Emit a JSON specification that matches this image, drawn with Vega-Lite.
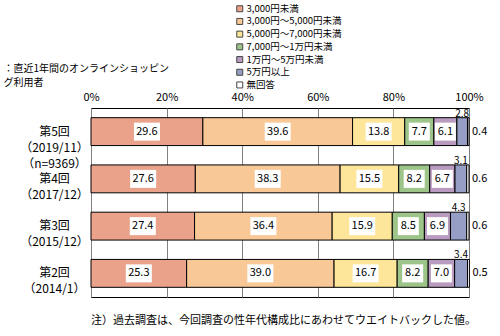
{
  "$schema": "https://vega.github.io/schema/vega-lite/v6.json",
  "width": 378,
  "height": 189,
  "autosize": {"type": "none"},
  "padding": {"left": 91, "top": 108, "right": 31, "bottom": 39},
  "background": "white",
  "config": {"view": {"stroke": "black", "strokeWidth": 1}, "font": "Noto Sans CJK JP"},
  "title": {"text": "注）過去調査は、今回調査の性年代構成比にあわせてウエイトバックした値。", "orient": "bottom", "anchor": "start", "frame": "group", "fontSize": 11, "fontWeight": "normal", "offset": 18, "font": "Noto Sans CJK JP", "color": "black"},
  "data": {"values": [
    {"round": "第5回|（2019/11）|（n=9369）", "cat": "3,000円未満", "value": 29.6},
    {"round": "第5回|（2019/11）|（n=9369）", "cat": "3,000円～5,000円未満", "value": 39.6},
    {"round": "第5回|（2019/11）|（n=9369）", "cat": "5,000円～7,000円未満", "value": 13.8},
    {"round": "第5回|（2019/11）|（n=9369）", "cat": "7,000円～1万円未満", "value": 7.7},
    {"round": "第5回|（2019/11）|（n=9369）", "cat": "1万円～5万円未満", "value": 6.1},
    {"round": "第5回|（2019/11）|（n=9369）", "cat": "5万円以上", "value": 2.8},
    {"round": "第5回|（2019/11）|（n=9369）", "cat": "無回答", "value": 0.4},
    {"round": "第4回|（2017/12）", "cat": "3,000円未満", "value": 27.6},
    {"round": "第4回|（2017/12）", "cat": "3,000円～5,000円未満", "value": 38.3},
    {"round": "第4回|（2017/12）", "cat": "5,000円～7,000円未満", "value": 15.5},
    {"round": "第4回|（2017/12）", "cat": "7,000円～1万円未満", "value": 8.2},
    {"round": "第4回|（2017/12）", "cat": "1万円～5万円未満", "value": 6.7},
    {"round": "第4回|（2017/12）", "cat": "5万円以上", "value": 3.1},
    {"round": "第4回|（2017/12）", "cat": "無回答", "value": 0.6},
    {"round": "第3回|（2015/12）", "cat": "3,000円未満", "value": 27.4},
    {"round": "第3回|（2015/12）", "cat": "3,000円～5,000円未満", "value": 36.4},
    {"round": "第3回|（2015/12）", "cat": "5,000円～7,000円未満", "value": 15.9},
    {"round": "第3回|（2015/12）", "cat": "7,000円～1万円未満", "value": 8.5},
    {"round": "第3回|（2015/12）", "cat": "1万円～5万円未満", "value": 6.9},
    {"round": "第3回|（2015/12）", "cat": "5万円以上", "value": 4.3},
    {"round": "第3回|（2015/12）", "cat": "無回答", "value": 0.6},
    {"round": "第2回|（2014/1）", "cat": "3,000円未満", "value": 25.3},
    {"round": "第2回|（2014/1）", "cat": "3,000円～5,000円未満", "value": 39.0},
    {"round": "第2回|（2014/1）", "cat": "5,000円～7,000円未満", "value": 16.7},
    {"round": "第2回|（2014/1）", "cat": "7,000円～1万円未満", "value": 8.2},
    {"round": "第2回|（2014/1）", "cat": "1万円～5万円未満", "value": 7.0},
    {"round": "第2回|（2014/1）", "cat": "5万円以上", "value": 3.4},
    {"round": "第2回|（2014/1）", "cat": "無回答", "value": 0.5}
  ]},
  "transform": [
    {"calculate": "indexof(['3,000円未満','3,000円～5,000円未満','5,000円～7,000円未満','7,000円～1万円未満','1万円～5万円未満','5万円以上','無回答'], datum.cat)", "as": "ci"},
    {"stack": "value", "groupby": ["round"], "sort": [{"field": "ci", "order": "ascending"}], "as": ["x0", "x1"]},
    {"calculate": "(datum.x0 + datum.x1) / 2", "as": "mid"}
  ],
  "encoding": {
    "y": {
      "field": "round", "type": "nominal",
      "sort": ["第5回|（2019/11）|（n=9369）", "第4回|（2017/12）", "第3回|（2015/12）", "第2回|（2014/1）"],
      "scale": {"paddingInner": 0.41, "paddingOuter": 0.205},
      "axis": {
        "title": ["：直近1年間のオンラインショッピン", "グ利用者"],
        "titleAngle": 0, "titleAlign": "left", "titleBaseline": "top",
        "titleX": -88, "titleY": -45, "titleFontSize": 10, "titleFontWeight": "normal",
        "titleLineHeight": 14, "titleColor": "black", "titleFont": "Noto Sans CJK JP",
        "labelExpr": "split(datum.label, '|')",
        "labelAlign": "center", "labelBaseline": "middle", "labelPadding": 37,
        "labelFontSize": 12, "labelLineHeight": 16, "labelColor": "black", "labelFont": "Noto Sans CJK JP",
        "ticks": false, "domain": false
      }
    }
  },
  "layer": [
    {
      "mark": {"type": "bar", "stroke": "black", "strokeWidth": 1},
      "encoding": {
        "x": {
          "field": "x0", "type": "quantitative",
          "scale": {"domain": [0, 100], "nice": false},
          "axis": {
            "orient": "top", "values": [0, 20, 40, 60, 80, 100], "labelExpr": "datum.value + '%'",
            "title": null, "domain": false, "ticks": false, "grid": true,
            "gridColor": "#808080", "gridOpacity": 1, "labelFontSize": 11, "labelPadding": 6,
            "labelColor": "black", "labelFlush": false, "labelFont": "Noto Sans CJK JP"
          }
        },
        "x2": {"field": "x1"},
        "color": {
          "field": "cat", "type": "nominal",
          "scale": {
            "domain": ["3,000円未満", "3,000円～5,000円未満", "5,000円～7,000円未満", "7,000円～1万円未満", "1万円～5万円未満", "5万円以上", "無回答"],
            "range": ["#EBA28B", "#F9C897", "#FDE699", "#9DC489", "#B89BBF", "#969EC5", "#FFFFFF"]
          },
          "legend": {
            "orient": "none", "legendX": 144, "legendY": -104, "title": null,
            "symbolType": "square", "symbolSize": 36, "symbolStrokeColor": "#444",
            "symbolStrokeWidth": 1, "labelFontSize": 9.5, "rowPadding": 1.7, "labelOffset": 2,
            "labelFont": "Noto Sans CJK JP", "labelColor": "black"
          }
        }
      }
    },
    {
      "transform": [{"filter": "datum.ci < 5"}],
      "mark": {"type": "tick", "orient": "horizontal", "color": "white", "opacity": 1, "thickness": 18},
      "encoding": {
        "x": {"field": "mid", "type": "quantitative"},
        "size": {"condition": {"test": "datum.value >= 10", "value": 26}, "value": 21}
      }
    },
    {
      "transform": [{"filter": "datum.ci < 5"}],
      "mark": {"type": "text", "fontSize": 11, "color": "black"},
      "encoding": {
        "x": {"field": "mid", "type": "quantitative"},
        "text": {"field": "value", "type": "quantitative", "format": ".1f"}
      }
    },
    {
      "transform": [{"filter": "datum.ci == 5"}],
      "mark": {"type": "text", "fontSize": 10, "color": "black", "dy": -18},
      "encoding": {
        "x": {"field": "mid", "type": "quantitative"},
        "text": {"field": "value", "type": "quantitative", "format": ".1f"}
      }
    },
    {
      "transform": [{"filter": "datum.ci == 6"}],
      "mark": {"type": "text", "fontSize": 11, "color": "black", "align": "left", "dx": 3},
      "encoding": {
        "x": {"field": "x1", "type": "quantitative"},
        "text": {"field": "value", "type": "quantitative", "format": ".1f"}
      }
    }
  ]
}
